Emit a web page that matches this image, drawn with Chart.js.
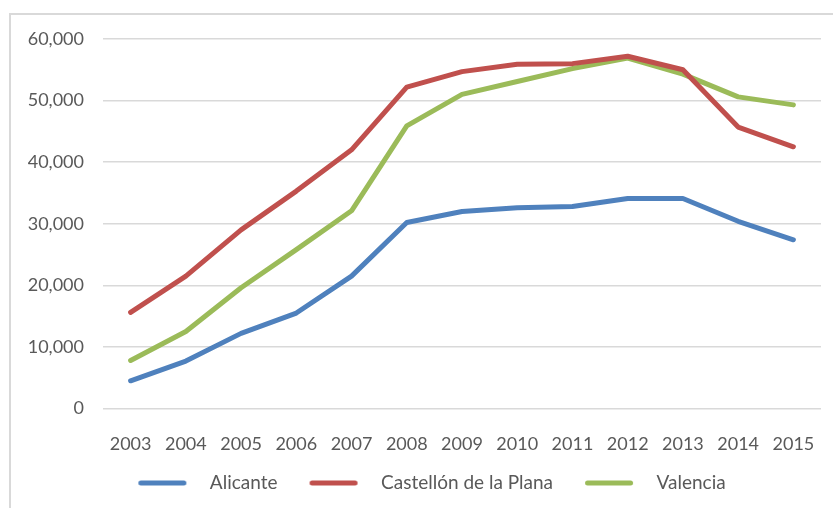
<!DOCTYPE html>
<html lang="en">
<head>
    <meta charset="UTF-8">
    <title>Population chart</title>
    <style>
        html, body {
            margin: 0;
            padding: 0;
            background: #ffffff;
            overflow: hidden;
        }

        #wrap {
            position: relative;
            width: 833px;
            height: 508px;
        }

        #frame {
            position: absolute;
            left: 9px;
            top: 13px;
            width: 840px;
            height: 520px;
            border: 2px solid #d9d9d9;
        }

        #chart {
            position: absolute;
            left: 0;
            top: 0;
        }
    </style>
    <script src="https://cdn.jsdelivr.net/npm/chart.js"></script>
</head>
<body>
    <div id="wrap">
        <div id="frame"></div>
        <canvas id="chart" width="833" height="508"></canvas>
    </div>
    <script>
        const years = ['2003', '2004', '2005', '2006', '2007', '2008', '2009', '2010', '2011', '2012', '2013', '2014', '2015'];
        const alicante = [4500, 7700, 12200, 15500, 21500, 30200, 32000, 32600, 32800, 34100, 34100, 30400, 27400];
        const castellon = [15600, 21500, 29000, 35300, 42000, 52200, 54700, 55900, 56000, 57200, 55000, 45700, 42500];
        const valencia = [7800, 12500, 19600, 25800, 32100, 45900, 51000, 53100, 55200, 56900, 54300, 50600, 49300];
        const yTicks = [0, 10000, 20000, 30000, 40000, 50000, 60000];

        const textColor = '#595959';
        const gridColor = '#d9d9d9';

        // legend swatch: transparent lead-in, a 48px bar, then a gap before the text
        function swatch(color) {
            const c = document.createElement('canvas');
            c.width = 84;
            c.height = 6;
            const g = c.getContext('2d');
            g.fillStyle = color;
            g.beginPath();
            g.roundRect(22, 0.5, 48, 5, 2.5);
            g.fill();
            return c;
        }

        function makeSet(label, values, color) {
            return {
                label: label,
                data: values,
                borderColor: color,
                backgroundColor: color,
                borderWidth: 5,
                pointRadius: 0,
                tension: 0,
                borderCapStyle: 'round',
                borderJoinStyle: 'round',
                fill: false
            };
        }

        new Chart(document.getElementById('chart'), {
            type: 'line',
            data: {
                labels: years,
                datasets: [
                    makeSet('Alicante', alicante, '#4f81bd'),
                    makeSet('Castellón de la Plana', castellon, '#c0504d'),
                    makeSet('Valencia', valencia, '#9bbb59')
                ]
            },
            options: {
                responsive: false,
                devicePixelRatio: 1,
                animation: false,
                layout: {
                    padding: { top: 39, right: 12, bottom: 5.5, left: 21 }
                },
                font: { family: 'Lato', size: 18 },
                plugins: {
                    tooltip: { enabled: false },
                    legend: {
                        position: 'bottom',
                        labels: {
                            usePointStyle: true,
                            pointStyleWidth: 84,
                            padding: 10,
                            color: textColor,
                            font: { family: 'Lato', size: 19 },
                            generateLabels: chart => chart.data.datasets.map((ds, i) => ({
                                text: ds.label,
                                fillStyle: ds.borderColor,
                                strokeStyle: ds.borderColor,
                                lineWidth: 0,
                                pointStyle: swatch(ds.borderColor),
                                fontColor: textColor,
                                hidden: false,
                                datasetIndex: i
                            }))
                        }
                    }
                },
                scales: {
                    x: {
                        offset: true,
                        grid: { display: false },
                        border: { display: false },
                        ticks: {
                            color: textColor,
                            font: { family: 'Lato', size: 18 },
                            padding: 17,
                            maxRotation: 0,
                            autoSkip: false
                        },
                        afterFit: scale => { scale.height = 55; }
                    },
                    y: {
                        min: 0,
                        max: 60000,
                        afterBuildTicks: scale => {
                            scale.ticks = yTicks.map(v => ({ value: v }));
                        },
                        grid: {
                            color: gridColor,
                            lineWidth: 1.5,
                            drawTicks: false,
                            tickLength: 0
                        },
                        border: { display: false },
                        ticks: {
                            color: textColor,
                            font: { family: 'Lato', size: 18 },
                            padding: 19,
                            callback: v => v.toLocaleString('en-US')
                        },
                        afterFit: scale => { scale.width = 82; }
                    }
                }
            }
        });
    </script>
</body>
</html>
